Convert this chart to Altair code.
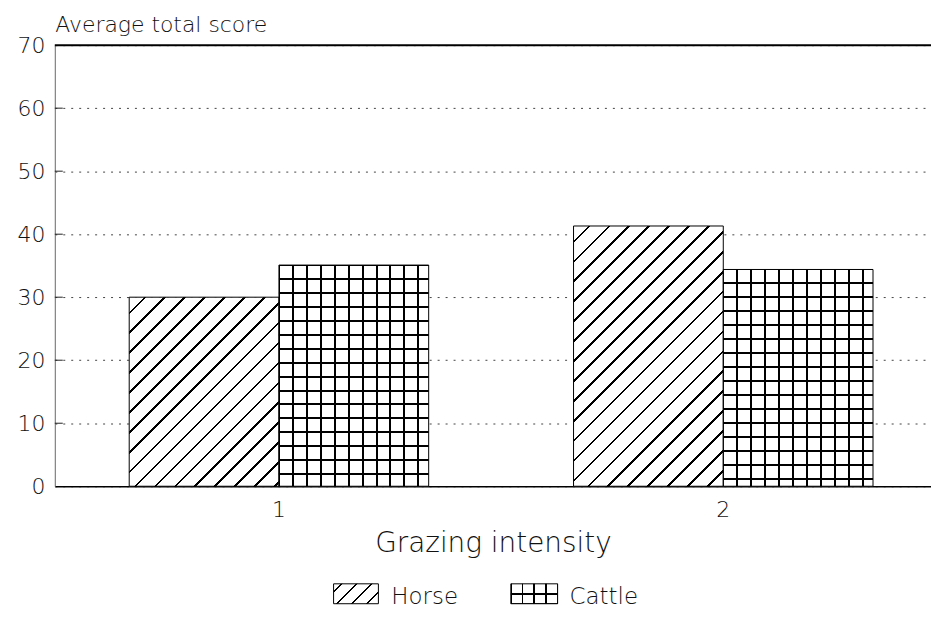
import math
import altair as alt
import pandas as pd

# ---------------- data ----------------
categories = ["1", "2"]
series = ["Horse", "Cattle"]
horse_scores = [30.0, 41.3]
cattle_scores = [35.1, 34.4]
y_ticks = [0, 10, 20, 30, 40, 50, 60, 70]
inner_ticks = [10, 20, 30, 40, 50, 60]
y_max = [70]

FONT = "DejaVu Sans"
FW = 200
PLOT_W = 880
PLOT_H = 443
Y_MAX = 70
PAD_INNER = 0.326
PAD_OUTER = 0.149
ALIGN = 0.562

rows = []
for i, c in enumerate(categories):
    rows.append({"intensity": c, "animal": "Horse", "score": horse_scores[i]})
    rows.append({"intensity": c, "animal": "Cattle", "score": cattle_scores[i]})
df = pd.DataFrame(rows)
ticks_df = pd.DataFrame({"score": inner_ticks})
top_df = pd.DataFrame({"score": y_max})
legend_df = pd.DataFrame({"animal": series})

step = PLOT_W / (len(categories) - PAD_INNER + 2 * PAD_OUTER)
bar_w = step * (1 - PAD_INNER) / len(series)


# ---------------- hatch fills built from gradients ----------------
def stripe_stops(pos, half, bg, fg="black"):
    stops = [{"offset": 0, "color": bg}]
    for t in pos:
        a = max(0.0, t - half)
        b = min(1.0, t + half)
        stops += [
            {"offset": round(a, 6), "color": bg},
            {"offset": round(a, 6), "color": fg},
            {"offset": round(b, 6), "color": fg},
            {"offset": round(b, 6), "color": bg},
        ]
    stops.append({"offset": 1, "color": bg})
    return stops


def diag(w, h, spacing, phase, lw, bg="white"):
    r = h / w
    s = (1 + r) / (1 + r * r)
    L = w + h
    pos = []
    c = phase
    while c < L:
        pos.append(c / L)
        c += spacing
    half = lw * math.sqrt(2) / 2 / L
    return {"gradient": "linear", "x1": 0, "y1": 0, "x2": s, "y2": s * r,
            "stops": stripe_stops(pos, half, bg)}


def hlines(h, spacing, phase, lw, bg="white"):
    pos = []
    c = phase
    while c <= h:
        pos.append(c / h)
        c += spacing
    return {"gradient": "linear", "x1": 0, "y1": 0, "x2": 0, "y2": 1,
            "stops": stripe_stops(pos, lw / 2 / h, bg)}


def vlines(w, spacing, phase, lw, bg="transparent"):
    pos = []
    c = phase
    while c <= w:
        pos.append(c / w)
        c += spacing
    return {"gradient": "linear", "x1": 0, "y1": 0, "x2": 1, "y2": 0,
            "stops": stripe_stops(pos, lw / 2 / w, bg)}


# ---------------- scales / axes ----------------
xscale = alt.Scale(paddingInner=PAD_INNER, paddingOuter=PAD_OUTER, align=ALIGN)
yscale = alt.Scale(domain=[0, Y_MAX], nice=False, zero=True)
xaxis = alt.Axis(labelAngle=0, ticks=False, domainColor="black", domainWidth=1.5,
                 labelPadding=13, labelFontSize=22, title="Grazing intensity",
                 titleFontSize=28, titleY=66, titleBaseline="alphabetic", grid=False,
                 titleFontWeight=FW, labelFontWeight=FW)
yaxis = alt.Axis(values=y_ticks, ticks=False, domainColor="#666", domainWidth=1,
                 labelPadding=10, labelFontSize=22, grid=True, gridDash=[2, 6],
                 gridColor="#444", gridWidth=1, title="Average total score",
                 titleAngle=0, titleX=0, titleY=-14, titleAlign="left",
                 titleBaseline="alphabetic", titleFontSize=22,
                 titleFontWeight=FW, labelFontWeight=FW)

X = alt.X("intensity:N", sort=categories, scale=xscale, axis=xaxis)
XO = alt.XOffset("animal:N", sort=series, scale=alt.Scale(domain=series, paddingInner=0, paddingOuter=0))
Y = alt.Y("score:Q", scale=yscale, axis=yaxis)

base = alt.Chart(df).encode(x=X, xOffset=XO, y=Y)

layers = []
# tick marks inside the plot
layers.append(alt.Chart(ticks_df).mark_rule(color="#222", strokeWidth=1).encode(
    y=Y, x=alt.value(0), x2=alt.value(8)))
# top border line
layers.append(alt.Chart(top_df).mark_rule(color="black", strokeWidth=2).encode(y=Y))

for i, c in enumerate(categories):
    hh = horse_scores[i] / Y_MAX * PLOT_H
    layers.append(
        base.transform_filter(f"datum.intensity == '{c}' && datum.animal == 'Horse'")
        .mark_bar(fill=diag(bar_w, hh, 20, 16, 1.9), stroke="black", strokeWidth=1)
    )
    hc = cattle_scores[i] / Y_MAX * PLOT_H
    cf = base.transform_filter(f"datum.intensity == '{c}' && datum.animal == 'Cattle'")
    layers.append(cf.mark_bar(fill=hlines(hc, 14, 0, 2.0, "white"), strokeWidth=0))
    layers.append(cf.mark_bar(fill=vlines(bar_w, 14, 0, 2.0, "transparent"),
                              stroke="black", strokeWidth=1))

# ---------------- legend ----------------
LY0, LY1 = 541, 561
leg = alt.Chart(legend_df)
layers.append(
    leg.transform_filter("datum.animal == 'Horse'")
    .mark_rect(fill=diag(45, 20, 15, 8, 1.5), stroke="black", strokeWidth=1)
    .encode(x=alt.value(280), x2=alt.value(325), y=alt.value(LY0), y2=alt.value(LY1))
)
layers.append(
    leg.transform_filter("datum.animal == 'Cattle'")
    .mark_rect(fill=hlines(20, 10, 10, 1.5, "white"), strokeWidth=0)
    .encode(x=alt.value(458), x2=alt.value(505), y=alt.value(LY0), y2=alt.value(LY1))
)
layers.append(
    leg.transform_filter("datum.animal == 'Cattle'")
    .mark_rect(fill=vlines(47, 11.75, 0, 1.5, "transparent"), stroke="black", strokeWidth=1)
    .encode(x=alt.value(458), x2=alt.value(505), y=alt.value(LY0), y2=alt.value(LY1))
)
for name, xpos in (("Horse", 338), ("Cattle", 517)):
    layers.append(
        leg.transform_filter(f"datum.animal == '{name}'")
        .mark_text(font=FONT, fontSize=23, fontWeight=FW, align="left",
                   baseline="alphabetic", color="#111")
        .encode(text="animal:N", x=alt.value(xpos), y=alt.value(561))
    )

chart = (
    alt.layer(*layers)
    .properties(width=PLOT_W, height=PLOT_H,
                padding={"left": 47, "top": 36, "right": 0, "bottom": 127},
                autosize=alt.AutoSizeParams(type="none"))
    .configure_view(stroke=None)
    .configure_axis(labelFont=FONT, titleFont=FONT, labelColor="#111", titleColor="#111")
)

chart.save("out.html", embed_options={"renderer": "svg", "actions": False})
